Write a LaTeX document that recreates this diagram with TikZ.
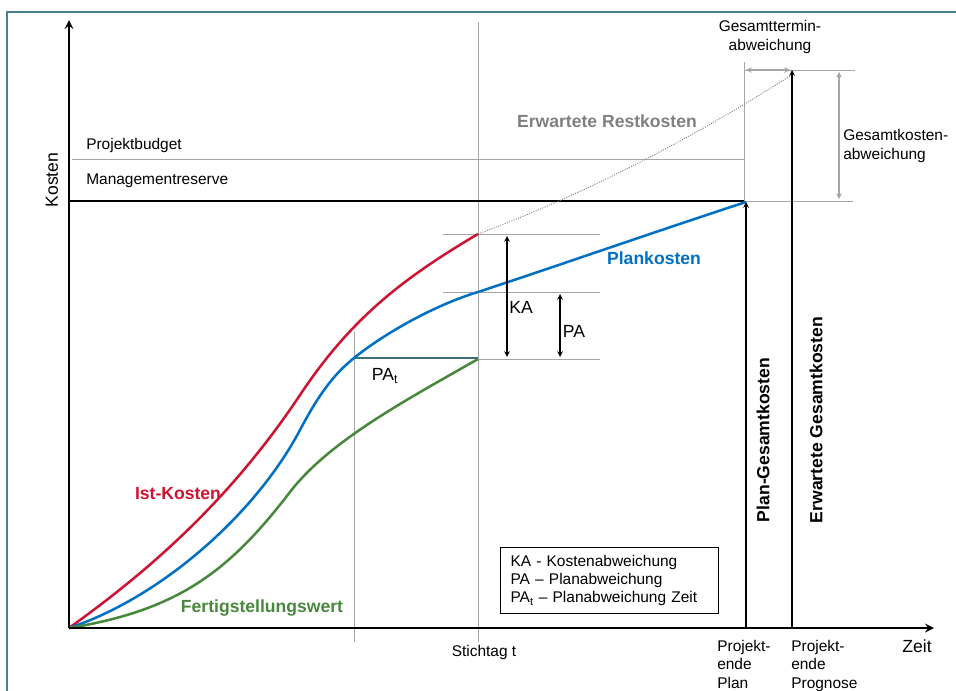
\documentclass[tikz,border=0pt]{standalone}
\usepackage{fontspec}
\setmainfont{Liberation Sans}
\usepackage{tikz}
\usetikzlibrary{arrows}
\usepackage{xcolor}
\definecolor{framecol}{RGB}{72,128,140}
\definecolor{linegray}{RGB}{165,165,165}
\definecolor{textgray}{RGB}{128,128,128}
\definecolor{istred}{RGB}{205,20,50}
\definecolor{planblue}{RGB}{0,112,196}
\definecolor{fertiggreen}{RGB}{72,136,60}
\definecolor{patcol}{RGB}{60,110,120}
\tikzstyle{axis} = [line width=1.8pt,->,>=stealth]
\tikzstyle{helper} = [draw=linegray, line width=0.7pt]
\tikzstyle{curve} = [line width=1.8pt]
\tikzstyle{dimarrow} = [line width=0.8pt,<->,>=stealth]
\tikzstyle{costarrow} = [line width=0.8pt,->,>=stealth]
\tikzstyle{smalltext} = [font=\fontsize{11}{13}\selectfont, inner sep=0pt]
\tikzstyle{bigtext} = [font=\fontsize{12.5}{15}\selectfont\bfseries, inner sep=0pt]

\begin{document}
\begin{tikzpicture}[x=0.025cm, y=-0.025cm]
		\useasboundingbox (0,0) rectangle (956,691);
		\draw[framecol, line width=1.2pt] (7,691) -- (7,12) -- (956,12);

		% Punkte
		\coordinate (O) at (69,628);
		\coordinate (ytip) at (69,20);
		\coordinate (xtip) at (934,628);
		\coordinate (sttop) at (478,22);
		\coordinate (stbot) at (478,642);
		\coordinate (pattop) at (354,332);
		\coordinate (patbot) at (354,642);
		\coordinate (R) at (478,234);
		\coordinate (B) at (478,292);
		\coordinate (G) at (478,359);
		\coordinate (Bt) at (354,358);
		\coordinate (P) at (746,202);
		\coordinate (Pb) at (746,628);
		\coordinate (F) at (792,70);
		\coordinate (Fb) at (792,628);

		% Hilfslinien
		\draw[helper] (72,159) -- (744,159);
		\draw[helper] (744,62) -- (744,201);
		\draw[helper] (744,201) -- (853,201);
		\draw[helper] (745,70) -- (855,70);
		\draw[helper] (sttop) -- (stbot);
		\draw[helper] (pattop) -- (patbot);
		\draw[helper] (443,234) -- (600,234);
		\draw[helper] (443,292) -- (600,292);
		\draw[helper] (G) -- (600,359);
		\draw[line width=1pt] (69,201) -- (744,201);
		\draw[patcol, line width=1pt] (Bt) -- (478,358);

		% Kurven
		\draw[textgray, densely dotted, line width=0.7pt] (R) .. controls (580,196) and (690,140) .. (790,76);
		\draw[curve, istred] (O) .. controls (150,570) and (230,500) .. (300,395)
			.. controls (350,320) and (400,280) .. (R);
		\draw[curve, planblue] (O) .. controls (160,598) and (255,515) .. (300,430)
			.. controls (322,388) and (338,371) .. (Bt)
			.. controls (385,333) and (435,305) .. (B)
			.. controls (560,265) and (660,230) .. (P);
		\draw[curve, fertiggreen] (O) .. controls (180,610) and (230,570) .. (290,492)
			.. controls (330,440) and (410,398) .. (G);

		% Achsen
		\draw[axis] (O) -- (ytip);
		\draw[axis] (O) -- (xtip);
		\draw[costarrow] (Pb) -- (P);
		\draw[costarrow] (Fb) -- (F);

		% Abweichungen
		\draw[dimarrow] (507,236) -- (507,357);
		\draw[dimarrow] (560,294) -- (560,357);
		\draw[dimarrow, linegray] (746,70) -- (790,70);
		\draw[dimarrow, linegray] (839,72) -- (839,199);

		% Texte
		\node[smalltext, rotate=90] (kosten) at (52,180) {\fontsize{12.5}{15}\selectfont Kosten};
		\node[smalltext, anchor=west] (budget) at (86,145) {Projektbudget};
		\node[smalltext, anchor=west] (reserve) at (86,181) {Managementreserve};
		\node[bigtext, textgray] (rest) at (607,121) {Erwartete Restkosten};
		\node[smalltext, align=center] (termin) at (770,37) {Gesamttermin-\\abweichung};
		\node[smalltext, align=left, anchor=west] (gkosten) at (843,146) {Gesamtkosten-\\abweichung};
		\node[bigtext, planblue] (plan) at (654,258) {Plankosten};
		\node[smalltext] (ka) at (521,307) {\fontsize{12.5}{15}\selectfont KA};
		\node[smalltext] (pa) at (574,331) {\fontsize{12.5}{15}\selectfont PA};
		\node[smalltext] (pat) at (385,376) {\fontsize{12.5}{15}\selectfont PA\textsubscript{t}};
		\node[bigtext, istred] (ist) at (178,494) {Ist-Kosten};
		\node[bigtext, fertiggreen] (fertig) at (262,608) {Fertigstellungswert};
		\node[smalltext, draw, line width=0.8pt, anchor=north west, align=left, text width=4.95cm, minimum height=1.65cm, inner xsep=0.25cm] (legende) at (500,547) {KA - Kostenabweichung\\PA – Planabweichung\\PA\textsubscript{t} – Planabweichung Zeit};
		\node[smalltext] (stichtag) at (484,652) {Stichtag t};
		\node[smalltext, anchor=north west, align=left] (endeplan) at (717,640) {Projekt-\\ende\\Plan};
		\node[smalltext, anchor=north west, align=left] (endeprog) at (791,640) {Projekt-\\ende\\Prognose};
		\node[smalltext] (zeit) at (917,646) {\fontsize{12.5}{15}\selectfont Zeit};
		\node[bigtext, rotate=90] (plangesamt) at (763,440) {Plan-Gesamtkosten};
		\node[bigtext, rotate=90] (erwgesamt) at (816,420) {Erwartete Gesamtkosten};

	\end{tikzpicture}
\end{document}
